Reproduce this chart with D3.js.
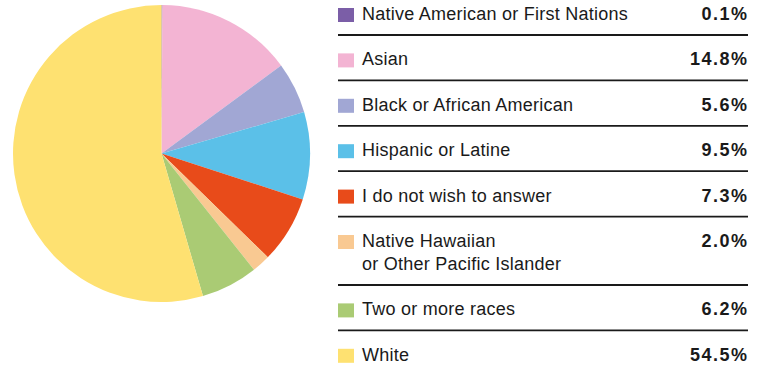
<!DOCTYPE html>
<html><head><meta charset="utf-8">
<script src="https://cdn.jsdelivr.net/npm/d3@7"></script>
<style>html,body{margin:0;padding:0;background:#fff;}svg{display:block;}</style>
</head><body>
<svg id="chart" width="757" height="367"></svg>
<script>
const categories = [
  ["Native American or First Nations"],
  ["Asian"],
  ["Black or African American"],
  ["Hispanic or Latine"],
  ["I do not wish to answer"],
  ["Native Hawaiian", "or Other Pacific Islander"],
  ["Two or more races"],
  ["White"]
];
const values = [0.1, 14.8, 5.6, 9.5, 7.3, 2.0, 6.2, 54.5];
const valueLabels = ["0.1%", "14.8%", "5.6%", "9.5%", "7.3%", "2.0%", "6.2%", "54.5%"];
const colors = ["#7B5EA7", "#F3B4D3", "#A1A7D4", "#5BC0E8", "#E84B1A", "#F9C992", "#AACB74", "#FEE171"];

(function () {
const svg = d3.select("#chart");
const font = "'Liberation Sans', Arial, Helvetica, sans-serif";

// Pie
const cx = 161.5, cy = 153.5, R = 148.5;
const pie = d3.pie().sort(null).value(d => d);
const arc = d3.arc().innerRadius(0).outerRadius(R);
const g = svg.append("g").attr("transform", `translate(${cx},${cy})`);
g.selectAll("path").data(pie(values)).join("path")
  .attr("d", arc)
  .attr("fill", (d, i) => colors[i]);

// Legend
const lx0 = 338, lx1 = 748, rowH = 45.4, extraLine = 23;
let rowTop = 0;
const leg = svg.append("g");
categories.forEach((lines, i) => {
  const base = rowTop + 20;
  leg.append("rect").attr("x", lx0).attr("y", base - 12).attr("width", 16).attr("height", 14)
    .attr("fill", colors[i]);
  lines.forEach((t, k) => {
    leg.append("text").attr("x", 362).attr("y", base + k * extraLine)
      .attr("font-family", font).attr("font-size", 18).attr("letter-spacing", 0.25)
      .attr("fill", "#1a1a1a").text(t);
  });
  leg.append("text").attr("x", 748.5).attr("y", base).attr("text-anchor", "end")
    .attr("font-family", font).attr("font-size", 18).attr("font-weight", "bold")
    .attr("letter-spacing", 1.5).attr("fill", "#1a1a1a")
    .text(valueLabels[i]);
  const h = rowH + (lines.length - 1) * extraLine;
  if (i < categories.length - 1) {
    const ly = rowTop + 35 + (lines.length - 1) * extraLine;
    leg.append("line").attr("x1", lx0).attr("x2", lx1).attr("y1", ly).attr("y2", ly)
      .attr("stroke", "#1a1a1a").attr("stroke-width", 1.8);
  }
  rowTop += h;
});
})();
</script>
</body></html>
